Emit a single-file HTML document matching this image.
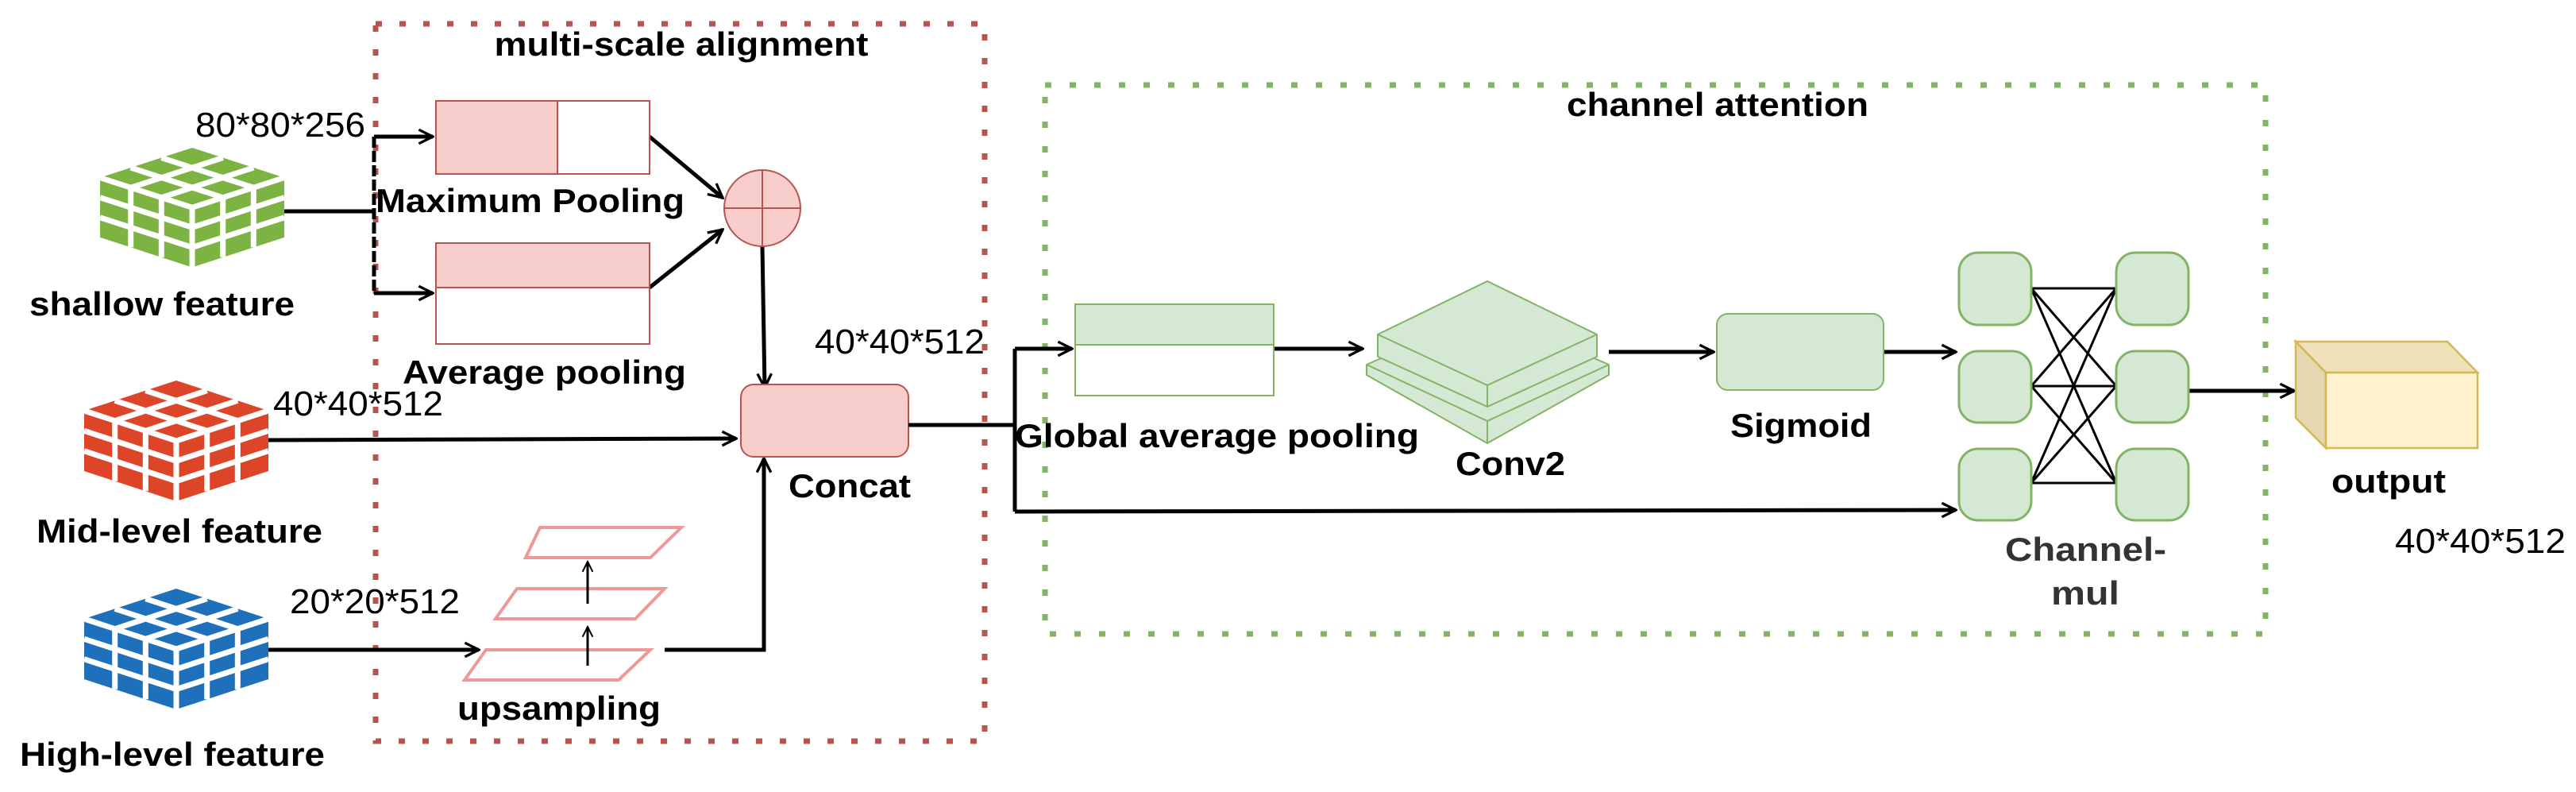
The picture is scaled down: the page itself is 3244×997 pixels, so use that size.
<!DOCTYPE html>
<html><head><meta charset="utf-8"><style>
html,body{margin:0;padding:0;background:#fff;}
svg{display:block;}
text{font-family:"Liberation Sans",Arial,sans-serif;}
.b{font-weight:bold;font-size:42px;fill:#000;}
.r{font-size:44px;fill:#000;}
</style></head><body>
<svg width="3244" height="997" viewBox="0 0 3244 997" xmlns="http://www.w3.org/2000/svg">
<defs>
<g id="cube">
<path d="M116,0 L232,38 L232,114 L116,152 L0,114 L0,38 Z"/>
<g stroke="#fff" stroke-width="7" fill="none">
<path d="M0,38 L116,76 L232,38 M116,76 L116,152"/>
<path d="M77.3,12.7 L193.3,50.7 M38.7,25.3 L154.7,63.3 M154.7,12.7 L38.7,50.7 M193.3,25.3 L77.3,63.3"/>
<path d="M38.7,50.7 L38.7,126.7 M77.3,63.3 L77.3,139.3 M0,63.3 L116,101.3 M0,88.7 L116,126.7"/>
<path d="M154.7,63.3 L154.7,139.3 M193.3,50.7 L193.3,126.7 M116,101.3 L232,63.3 M116,126.7 L232,88.7"/>
</g>
</g>
<marker id="ar" viewBox="0 0 20 20" refX="18" refY="10" markerWidth="22" markerHeight="22" markerUnits="userSpaceOnUse" orient="auto">
<path d="M2,2 L18,10 L2,18" fill="none" stroke="#000" stroke-width="3"/>
</marker>
<marker id="arS" viewBox="0 0 20 20" refX="18" refY="10" markerWidth="16" markerHeight="16" markerUnits="userSpaceOnUse" orient="auto">
<path d="M2,2 L18,10 L2,18" fill="none" stroke="#000" stroke-width="2.5"/>
</marker>
</defs>

<!-- dotted boxes -->
<rect x="473" y="30" width="767" height="903" fill="none" stroke="#b85450" stroke-width="7" stroke-dasharray="8 22"/>
<rect x="1316" y="107" width="1537" height="691" fill="none" stroke="#82b366" stroke-width="7" stroke-dasharray="8 23"/>

<text class="b" x="858" y="70" text-anchor="middle" textLength="471" lengthAdjust="spacingAndGlyphs">multi-scale alignment</text>
<text class="b" x="2163" y="146" text-anchor="middle" textLength="380" lengthAdjust="spacingAndGlyphs">channel attention</text>

<!-- cubes -->
<use href="#cube" fill="#7cb342" transform="translate(126,186) scale(1,0.99)"/>
<use href="#cube" fill="#dd4528" transform="translate(106,479)"/>
<use href="#cube" fill="#1f70bb" transform="translate(106,741)"/>

<text class="b" x="37" y="397" textLength="334" lengthAdjust="spacingAndGlyphs">shallow feature</text>
<text class="b" x="46" y="683" textLength="360" lengthAdjust="spacingAndGlyphs">Mid-level feature</text>
<text class="b" x="25" y="964" textLength="384" lengthAdjust="spacingAndGlyphs">High-level feature</text>

<text class="r" x="246" y="172" textLength="214" lengthAdjust="spacingAndGlyphs">80*80*256</text>
<text class="r" x="344" y="523" textLength="214" lengthAdjust="spacingAndGlyphs">40*40*512</text>
<text class="r" x="365" y="772" textLength="214" lengthAdjust="spacingAndGlyphs">20*20*512</text>
<text class="r" x="1026" y="445" textLength="214" lengthAdjust="spacingAndGlyphs">40*40*512</text>
<text class="r" x="3016" y="696" textLength="215" lengthAdjust="spacingAndGlyphs">40*40*512</text>

<!-- shallow branch -->
<g stroke="#000" stroke-width="5" fill="none">
<path d="M358,266 L471,266"/>
<path d="M471,172 L471,369" stroke-dasharray="14 4"/>
<path d="M471,172 L545,172" marker-end="url(#ar)"/>
<path d="M471,369 L545,369" marker-end="url(#ar)"/>
<path d="M818,172 L910,249" marker-end="url(#ar)"/>
<path d="M818,362 L910,289" marker-end="url(#ar)"/>
<path d="M960,310 L963,488" marker-end="url(#ar)"/>
<path d="M338,554 L927,552" marker-end="url(#ar)"/>
<path d="M338,818 L603,818" marker-end="url(#ar)"/>
<path d="M837,818 L962,818 L962,577" marker-end="url(#ar)"/>
</g>

<!-- pooling boxes -->
<rect x="549" y="127" width="153" height="92" fill="#f8cecc" stroke="#b85450" stroke-width="2"/>
<rect x="702" y="127" width="116" height="92" fill="#fff" stroke="#b85450" stroke-width="2"/>
<rect x="549" y="306" width="269" height="56" fill="#f8cecc" stroke="#b85450" stroke-width="2"/>
<rect x="549" y="362" width="269" height="71" fill="#fff" stroke="#b85450" stroke-width="2"/>
<text class="b" x="473" y="267" textLength="389" lengthAdjust="spacingAndGlyphs">Maximum Pooling</text>
<text class="b" x="507" y="483" textLength="357" lengthAdjust="spacingAndGlyphs">Average pooling</text>

<ellipse cx="960" cy="262" rx="48" ry="48" fill="#f8cecc" stroke="#b85450" stroke-width="2"/>
<path d="M912,262 L1008,262 M960,214 L960,310" stroke="#b85450" stroke-width="2"/>

<rect x="933" y="484" width="211" height="91" rx="16" fill="#f8cecc" stroke="#b85450" stroke-width="2"/>
<text class="b" x="993" y="626" textLength="154" lengthAdjust="spacingAndGlyphs">Concat</text>

<!-- upsampling -->
<g fill="#fff" stroke="#ee9999" stroke-width="4">
<path d="M680,664 L858,664 L819,702 L662,702 Z"/>
<path d="M651,741 L837,741 L800,779 L624,779 Z"/>
<path d="M612,818 L819,818 L779,856 L585,856 Z"/>
</g>
<g stroke="#000" stroke-width="3" fill="none">
<path d="M740,838 L740,789" marker-end="url(#arS)"/>
<path d="M740,760 L740,707" marker-end="url(#arS)"/>
</g>
<text class="b" x="576" y="906" textLength="256" lengthAdjust="spacingAndGlyphs">upsampling</text>

<!-- channel attention -->
<g stroke="#000" stroke-width="5" fill="none">
<path d="M1144,535 L1278,535"/>
<path d="M1278,439 L1278,644"/>
<path d="M1278,439 L1350,439" marker-end="url(#ar)"/>
<path d="M1278,644 L2463,642" marker-end="url(#ar)"/>
<path d="M1604,439 L1716,439" marker-end="url(#ar)"/>
<path d="M2026,443 L2158,443" marker-end="url(#ar)"/>
<path d="M2372,443 L2463,443" marker-end="url(#ar)"/>
<path d="M2756,492 L2889,492" marker-end="url(#ar)"/>
</g>

<rect x="1354" y="383" width="250" height="51" fill="#d5e8d4" stroke="#82b366" stroke-width="2"/>
<rect x="1354" y="434" width="250" height="64" fill="#fff" stroke="#82b366" stroke-width="2"/>
<text class="b" x="1278" y="563" textLength="509" lengthAdjust="spacingAndGlyphs">Global average pooling</text>

<!-- conv2 stack -->
<g fill="#d5e8d4" stroke="#82b366" stroke-width="2">
<path d="M1721,459 L1873,392 L2026,459 L2026,472 L1873,558 L1721,472 Z"/>
<path d="M1721,459 L1873,530 L2026,459 M1873,530 L1873,558" fill="none"/>
<path d="M1735,421 L1873,354 L2011,421 L2011,449 L1873,512 L1735,449 Z"/>
<path d="M1735,421 L1873,485 L2011,421 M1873,485 L1873,512" fill="none"/>
</g>
<text class="b" x="1833" y="598" textLength="138" lengthAdjust="spacingAndGlyphs">Conv2</text>

<rect x="2162" y="395" width="210" height="96" rx="14" fill="#d5e8d4" stroke="#82b366" stroke-width="2"/>
<text class="b" x="2179" y="550" textLength="178" lengthAdjust="spacingAndGlyphs">Sigmoid</text>

<!-- fully connected -->
<g stroke="#000" stroke-width="3">
<path d="M2558,363 L2665,363 M2558,363 L2665,486 M2558,363 L2665,608"/>
<path d="M2558,486 L2665,363 M2558,486 L2665,486 M2558,486 L2665,608"/>
<path d="M2558,608 L2665,363 M2558,608 L2665,486 M2558,608 L2665,608"/>
</g>
<g fill="#d5e8d4" stroke="#82b366" stroke-width="3">
<rect x="2467" y="318" width="91" height="91" rx="24"/>
<rect x="2467" y="442" width="91" height="90" rx="24"/>
<rect x="2467" y="565" width="91" height="90" rx="24"/>
<rect x="2665" y="318" width="91" height="91" rx="24"/>
<rect x="2665" y="442" width="91" height="90" rx="24"/>
<rect x="2665" y="565" width="91" height="90" rx="24"/>
</g>
<text class="b" x="2525" y="706" style="fill:#333" textLength="203" lengthAdjust="spacingAndGlyphs">Channel-</text>
<text class="b" x="2583" y="761" style="fill:#333" textLength="86" lengthAdjust="spacingAndGlyphs">mul</text>

<!-- output cube -->
<g stroke="#d6b656" stroke-width="2.5">
<path d="M2891,430 L3082,430 L3120,469 L2929,469 Z" fill="#f0e2b8"/>
<path d="M2891,430 L2929,469 L2929,564 L2891,526 Z" fill="#e5d7b0"/>
<rect x="2929" y="469" width="191" height="95" fill="#fff2cc"/>
</g>
<text class="b" x="2936" y="620" textLength="144" lengthAdjust="spacingAndGlyphs">output</text>
</svg>
</body></html>
